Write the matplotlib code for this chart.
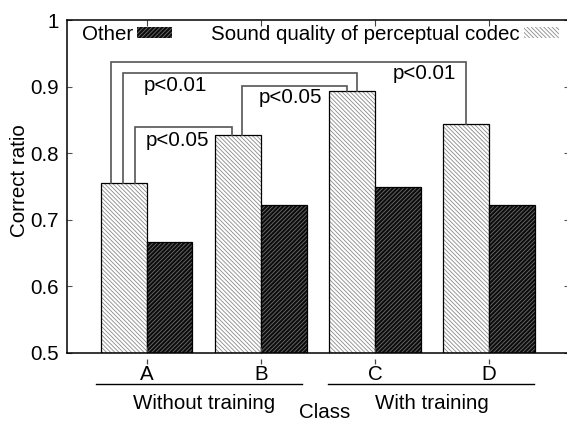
import matplotlib
matplotlib.use("Agg")
import matplotlib.pyplot as plt
import matplotlib.transforms as mtransforms
from matplotlib.ticker import FormatStrFormatter

plt.rcParams['font.family'] = ['Liberation Sans', 'DejaVu Sans']
plt.rcParams['font.size'] = 14.8
plt.rcParams['hatch.linewidth'] = 0.6

# --- data ---
classes = ["A", "B", "C", "D"]
sound_quality = [0.755, 0.827, 0.893, 0.844]
other = [0.667, 0.722, 0.749, 0.722]

# significance brackets: leg x positions, bar each leg ends on, bracket height, label
br_x_left = [0.686, 0.791, 1.834, 0.896]
br_x_right = [3.797, 2.842, 2.754, 1.746]
br_bar_left = [0, 0, 1, 0]
br_bar_right = [3, 2, 2, 1]
br_top = [0.937, 0.920, 0.901, 0.839]
br_text = ["p<0.01", "p<0.01", "p<0.05", "p<0.05"]
br_text_x = [3.43, 1.25, 2.26, 1.27]
br_text_y = [0.919, 0.901, 0.883, 0.819]

groups = ["Without training", "With training"]
group_center = [1.5, 3.5]
group_line = [(0.55, 2.36), (2.59, 4.39)]

x = list(range(1, len(classes) + 1))
w = 0.4

fig = plt.figure(figsize=(5.67, 4.21), dpi=100)
ax = fig.add_axes([67 / 567, 68 / 421, 502 / 567, 333 / 421])

xl = [c - w for c in x]
sq = ax.bar(xl, [v - 0.5 for v in sound_quality], w, bottom=0.5, align="edge",
            facecolor="white", edgecolor="#8a8a8a", hatch="\\" * 8, linewidth=0,
            label="Sound quality of perceptual codec")
ax.bar(xl, [v - 0.5 for v in sound_quality], w, bottom=0.5, align="edge",
       facecolor="none", edgecolor="black", linewidth=0.9)
ot = ax.bar(x, [v - 0.5 for v in other], w, bottom=0.5, align="edge",
            facecolor="#0c0c0c", edgecolor="#6e6e6e", hatch="/" * 8, linewidth=0,
            label="Other")
ax.bar(x, [v - 0.5 for v in other], w, bottom=0.5, align="edge",
       facecolor="none", edgecolor="black", linewidth=0.9)

# brackets
for i in range(len(br_top)):
    yl = sound_quality[br_bar_left[i]]
    yr = sound_quality[br_bar_right[i]]
    ax.plot([br_x_left[i], br_x_left[i], br_x_right[i], br_x_right[i]],
            [yl, br_top[i], br_top[i], yr], color="#555555", lw=1.2,
            solid_joinstyle="miter", zorder=3)
    ax.text(br_text_x[i], br_text_y[i], br_text[i], ha="center", va="center")

ax.set_xlim(0.3, 4.7)
ax.set_ylim(0.5, 1.0)
ax.set_xticks(x)
ax.set_xticklabels(classes)
ax.set_yticks([0.5, 0.6, 0.7, 0.8, 0.9, 1.0])
ax.yaxis.set_major_formatter(FormatStrFormatter("%g"))

for s in ax.spines.values():
    s.set_linewidth(1.1)
ax.tick_params(axis="x", direction="in", top=True, bottom=True, length=4,
               color="#444444", pad=9)
ax.tick_params(axis="y", direction="in", left=True, right=True, length=3.5,
               color="#555555", pad=6)

trans = mtransforms.blended_transform_factory(ax.transData, ax.transAxes)
# detached tick dashes under the axis
ax.vlines(x, -0.034, -0.019, transform=trans, color="#444444", lw=0.9, clip_on=False)

# group annotations
for g, c, (a, b) in zip(groups, group_center, group_line):
    ax.plot([a, b], [-0.093, -0.093], transform=trans, color="black", lw=1.0,
            clip_on=False)
    ax.text(c, -0.152, g, transform=trans, ha="center", va="center")

ax.set_xlabel("Class", va="center")
ax.xaxis.set_label_coords(0.514, -0.180)
ax.set_ylabel("Correct ratio", va="center")
ax.yaxis.set_label_coords(-0.094, 0.517)

ax.legend(handles=[ot, sq], ncol=2, markerfirst=False, frameon=False,
          loc="center left", bbox_to_anchor=(0.03, 0.957), borderaxespad=0,
          borderpad=0, handlelength=1.7, handleheight=0.5, handletextpad=0.2,
          columnspacing=1.9)

fig.savefig("out.png", dpi=100)
